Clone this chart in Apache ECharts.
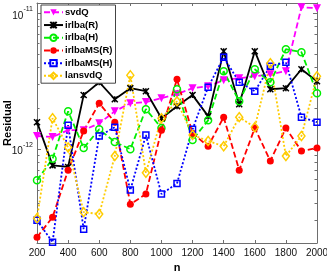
<!DOCTYPE html>
<html>
<head>
<meta charset="utf-8">
<script src="https://cdn.jsdelivr.net/npm/echarts@6/dist/echarts.min.js"></script>
<style>
html,body{margin:0;padding:0;background:#fff;}
#chart{width:327px;height:273px;}
</style>
</head>
<body>
<div id="chart"></div>
<script>
var nValues = [200,300,400,500,600,700,800,900,1000,1100,1200,1300,1400,1500,1600,1700,1800,1900,2000];
var svdQ      = [1.25e-12,1.23e-12,1.38e-12,1.38e-12,1.55e-12,1.90e-12,2.18e-12,2.22e-12,2.37e-12,2.54e-12,2.81e-12,2.90e-12,3.22e-12,3.33e-12,3.44e-12,3.56e-12,3.75e-12,1.107e-11,1.09e-11];
var irlbaR    = [1.58e-12,7.6e-13,7.4e-13,2.50e-12,3.11e-12,2.33e-12,2.81e-12,2.67e-12,1.69e-12,2.07e-12,2.50e-12,1.75e-12,5.26e-12,2.14e-12,5.26e-12,2.76e-12,2.81e-12,3.87e-12,3.16e-12];
var irlbaH    = [5.9e-13,8.5e-13,1.90e-12,1.02e-12,1.40e-12,1.13e-12,1.00e-12,1.97e-12,1.43e-12,2.76e-12,1.17e-12,1.63e-12,3.75e-12,2.25e-12,3.87e-12,3.11e-12,5.44e-12,5.17e-12,2.58e-12];
var irlbaMSR  = [2.25e-13,3.16e-13,7.0e-13,1.36e-12,2.18e-12,1.58e-12,3.94e-13,4.67e-13,1.38e-12,3.27e-12,1.31e-12,1.05e-12,1.72e-12,7.0e-13,1.43e-12,8.2e-13,1.43e-12,9.7e-13,1.02e-12];
var irlbaMSH  = [3.0e-13,2.07e-13,1.50e-12,2.58e-13,1.25e-12,1.45e-12,5.0e-13,1.27e-12,4.67e-13,5.6e-13,1.40e-12,2.86e-12,4.75e-12,3.11e-12,2.67e-12,4.08e-12,4.36e-12,1.72e-12,1.58e-12];
var lansvdQ   = [3.1e-13,1.69e-12,1.03e-12,3.44e-13,3.33e-13,8.9e-13,3.50e-12,6.7e-13,1.69e-12,2.25e-12,1.27e-12,1.15e-12,1.05e-12,1.72e-12,1.45e-12,4.29e-12,8.9e-13,1.25e-12,3.44e-12];
var seriesNames = ['svdQ','irlba(R)','irlba(H)','irlbaMS(R)','irlbaMS(H)','lansvdQ'];
var xTicks = [200,400,600,800,1000,1200,1400,1600,1800,2000];
var yMajorTicks = [1e-12,1e-11];
var yExponents = ['-12','-11'];
var yMinorTicks = [2e-13,3e-13,4e-13,5e-13,6e-13,7e-13,8e-13,9e-13,2e-12,3e-12,4e-12,5e-12,6e-12,7e-12,8e-12,9e-12];
var yMin = 2.04e-13, yMax = 1.19e-11;

function pairs(arr){ return nValues.map(function(n,i){ return [n, arr[i]]; }); }

var axisColor = '#6e6e6e';
var font = 'Liberation Sans, Arial, Helvetica, sans-serif';

function yAx(pos, labels, ticks, len){
  return {
    type:'log', logBase:10, min:yMin, max:yMax, position:pos,
    axisLine:{show:labels!==null, lineStyle:{color:axisColor,width:1}},
    axisTick:{show:true, inside:true, length:len, customValues:ticks, lineStyle:{color:axisColor,width:1}},
    axisLabel:labels ? labels : {show:false},
    splitLine:{show:false}, minorTick:{show:false}
  };
}

var yLabel = {
  show:true, inside:false, customValues: yMajorTicks, margin:4, align:'right', verticalAlign:'middle',
  fontSize:10, fontFamily:font, color:'#111',
  formatter:function(v){
    for (var i = 0; i < yMajorTicks.length; i++) {
      if (Math.abs(Math.log10(v) - Math.log10(yMajorTicks[i])) < 1e-6) return '{b|10}{s|' + yExponents[i] + '}';
    }
    return '';
  },
  rich:{
    b:{fontSize:10, fontFamily:font, color:'#111', verticalAlign:'bottom', lineHeight:15},
    s:{fontSize:7, fontFamily:font, color:'#111', verticalAlign:'top', lineHeight:15}
  }
};

var chart = echarts.init(document.getElementById('chart'), null, {renderer:'canvas'});
var xSym = 'path://M0,0L10,10M10,0L0,10M5,0L5,10';
chart.setOption({
  animation:false,
  backgroundColor:'#fff',
  grid:{left:37, right:10, top:3, bottom:30, containLabel:false, outerBoundsMode:'none'},
  xAxis:[
    {type:'value', min:200, max:2000, interval:200, position:'bottom',
     name:'n', nameLocation:'middle', nameGap:19, nameMoveOverlap:false,
     nameTextStyle:{fontSize:11, fontWeight:'bold', fontFamily:font, color:'#000'},
     axisLine:{show:true, lineStyle:{color:axisColor,width:1}},
     axisTick:{show:true, inside:true, length:3, customValues:xTicks, lineStyle:{color:axisColor}},
     axisLabel:{show:true, customValues:xTicks, fontSize:10, fontFamily:font, color:'#111', margin:5,
       formatter:function(v){ return String(v); }},
     splitLine:{show:false}},
    {type:'value', min:200, max:2000, interval:200, position:'top',
     axisLine:{show:true, lineStyle:{color:axisColor,width:1}},
     axisTick:{show:true, inside:true, length:3, customValues:xTicks, lineStyle:{color:axisColor}},
     axisLabel:{show:false}, splitLine:{show:false}}
  ],
  yAxis:[
    (function(){ var a = yAx('left', yLabel, yMajorTicks, 4);
      a.name='Residual'; a.nameLocation='middle'; a.nameGap=24; a.nameMoveOverlap=false;
      a.nameTextStyle={fontSize:11, fontWeight:'bold', fontFamily:font, color:'#000'}; return a; })(),
    yAx('left', null, yMinorTicks, 2.5),
    yAx('right', {show:false}, yMajorTicks, 4),
    yAx('right', null, yMinorTicks, 2.5)
  ],
  legend:{
    orient:'vertical', left:41, top:5,
    backgroundColor:'#fff', borderColor:'#444', borderWidth:1,
    padding:[1,3,1,2], itemGap:0, itemWidth:19, itemHeight:8,
    textStyle:{fontSize:9.5, fontWeight:'bold', fontFamily:font, color:'#000', lineHeight:12.7, padding:[0,0,0,-3]},
    data:seriesNames
  },
  series:[
    {name:seriesNames[0], type:'line', data:pairs(svdQ), symbol:'triangle', symbolRotate:180, symbolSize:8,
     lineStyle:{color:'#ff00ff', width:1.8, type:[6,3]}, itemStyle:{color:'#ff00ff'}},
    {name:seriesNames[1], type:'line', data:pairs(irlbaR), symbol:xSym, symbolSize:6,
     lineStyle:{color:'#000', width:1.8, type:'solid'}, itemStyle:{color:'#000', borderColor:'#000', borderWidth:1.5}},
    {name:seriesNames[2], type:'line', data:pairs(irlbaH), symbol:'circle', symbolSize:7,
     lineStyle:{color:'#00ee00', width:1.8, type:[6,3]}, itemStyle:{color:'rgba(255,255,255,0)', borderColor:'#00ee00', borderWidth:1.5}},
    {name:seriesNames[3], type:'line', data:pairs(irlbaMSR), symbol:'circle', symbolSize:7,
     lineStyle:{color:'#ff0000', width:1.8, type:[6,3]}, itemStyle:{color:'#ff0000'}},
    {name:seriesNames[4], type:'line', data:pairs(irlbaMSH), symbol:'rect', symbolSize:6,
     lineStyle:{color:'#0000ff', width:1.8, type:[2,2]}, itemStyle:{color:'rgba(255,255,255,0)', borderColor:'#0000ff', borderWidth:1.5}},
    {name:seriesNames[5], type:'line', data:pairs(lansvdQ), symbol:'diamond', symbolSize:[7,9],
     lineStyle:{color:'#ffcc00', width:1.8, type:[2,2]}, itemStyle:{color:'rgba(255,255,255,0)', borderColor:'#ffcc00', borderWidth:1.5}}
  ]
});
</script>
</body>
</html>
